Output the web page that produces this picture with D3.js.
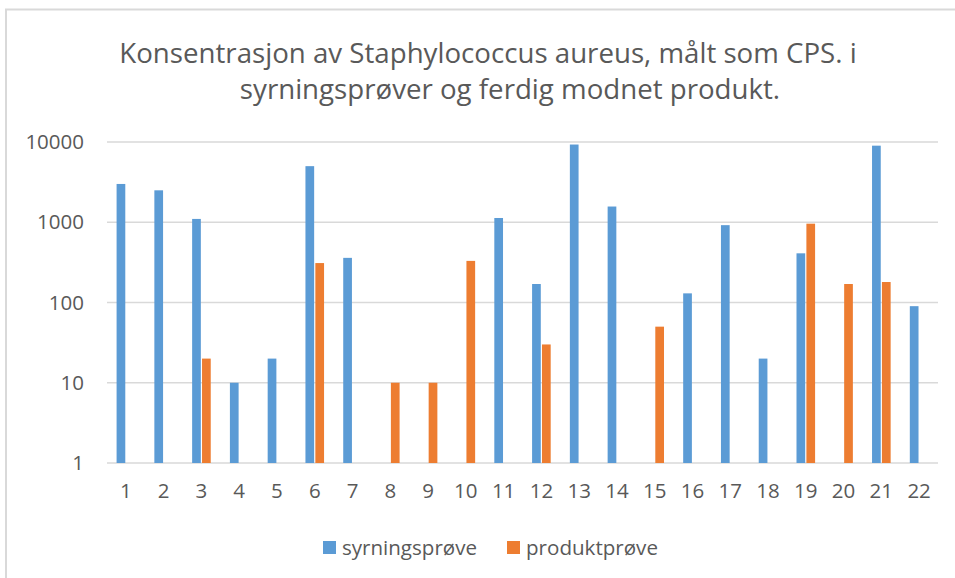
<!DOCTYPE html>
<html>
<head>
<meta charset="utf-8">
<script src="https://cdn.jsdelivr.net/npm/d3@7"></script>
<style>
  body { margin: 0; background: #fff; }
  text { font-family: "Open Sans", "Noto Sans", sans-serif; fill: #595959; }
</style>
</head>
<body>
<div id="chart"></div>
<script>

// prøvenummer
var categories = ["1","2","3","4","5","6","7","8","9","10","11","12","13","14","15","16","17","18","19","20","21","22"];

// syrningsprøve og produktprøve (null = ingen verdi)
var syrning = [3000, 2500, 1100, 10, 20, 5000, 360, null, null, null, 1130, 170, 9300, 1570, null, 130, 920, 20, 410, null, 9000, 90];
var produkt = [null, null, 20, null, null, 310, null, 10, 10, 330, null, 30, null, null, 50, null, null, null, 960, 170, 180, null];

var seriesNames = ["syrningsprøve", "produktprøve"];
var colors = ["#5B9BD5", "#ED7D31"];
var yTicks = [1, 10, 100, 1000, 10000];

var titleLines = ["Konsentrasjon av Staphylococcus aureus, målt som CPS. i",
                  "syrningsprøver og ferdig modnet produkt."];

var width = 955, height = 578;
var margin = { left: 107, right: 17, top: 142, bottom: 115 };

var svg = d3.select("#chart").append("svg")
    .attr("width", width)
    .attr("height", height);

// ramme rundt diagrammet
svg.append("rect")
    .attr("x", 6).attr("y", 9.5)
    .attr("width", width).attr("height", height)
    .attr("fill", "none")
    .attr("stroke", "#d9d9d9")
    .attr("stroke-width", 2);

// skalerer fontstørrelse slik at teksten får ønsket bredde
function fitText(sel, target) {
    var w = sel.node().getComputedTextLength();
    var fs = parseFloat(sel.attr("font-size"));
    sel.attr("font-size", fs * target / w);
}

var t1 = svg.append("text")
    .attr("x", 488).attr("y", 63)
    .attr("text-anchor", "middle")
    .attr("font-size", 22)
    .text(titleLines[0]);
fitText(t1, 738);
var t2 = svg.append("text")
    .attr("x", 510).attr("y", 99)
    .attr("text-anchor", "middle")
    .attr("font-size", t1.attr("font-size"))
    .text(titleLines[1]);

var x0 = d3.scaleBand()
    .domain(categories)
    .range([margin.left, width - margin.right]);

var bw = x0.bandwidth();
var x1 = d3.scaleBand()
    .domain([0, 1])
    .range([bw / 2 - 9.3, bw / 2 + 9.3])
    .paddingInner(0.12);

var y = d3.scaleLog()
    .domain([1, 10000])
    .range([height - margin.bottom, margin.top]);

// gridlinjer
svg.append("g")
    .selectAll("line")
    .data(yTicks).enter()
    .append("line")
    .attr("x1", margin.left)
    .attr("x2", width - margin.right)
    .attr("y1", function (d) { return y(d); })
    .attr("y2", function (d) { return y(d); })
    .attr("stroke", "#d9d9d9")
    .attr("stroke-width", 1.5);

// y-akse tekst
var yAxis = d3.axisLeft(y)
    .tickValues(yTicks)
    .tickFormat(d3.format("d"))
    .tickSize(0)
    .tickPadding(23);

var gy = svg.append("g")
    .attr("transform", "translate(" + margin.left + ",0)")
    .call(yAxis);
gy.select(".domain").remove();
gy.selectAll("text")
    .attr("font-size", 20.5)
    .attr("font-family", "'Open Sans', sans-serif")
    .attr("fill", "#595959");

// x-akse tekst
var xAxis = d3.axisBottom(x0).tickSize(0).tickPadding(20);
var gx = svg.append("g")
    .attr("transform", "translate(0," + y(1) + ")")
    .call(xAxis);
gx.select(".domain").remove();
gx.selectAll("text")
    .attr("font-size", 20.5)
    .attr("font-family", "'Open Sans', sans-serif")
    .attr("fill", "#595959");

// søyler
var rows = categories.map(function (c, i) {
    return { cat: c, vals: [syrning[i], produkt[i]] };
});

var groups = svg.append("g")
    .selectAll(".grp")
    .data(rows).enter()
    .append("g")
    .attr("class", "grp")
    .attr("transform", function (d) { return "translate(" + x0(d.cat) + ",0)"; });

groups.selectAll("rect")
    .data(function (d) {
        return d.vals.map(function (v, k) { return { k: k, v: v }; })
            .filter(function (e) { return e.v != null; });
    }).enter()
    .append("rect")
    .attr("x", function (d) { return x1(d.k); })
    .attr("width", x1.bandwidth())
    .attr("y", function (d) { return y(d.v); })
    .attr("height", function (d) { return y(1) - y(d.v); })
    .attr("fill", function (d) { return colors[d.k]; });

// forklaring
var legX = [323, 507];
var leg = svg.append("g")
    .selectAll(".leg")
    .data(seriesNames).enter()
    .append("g")
    .attr("class", "leg")
    .attr("transform", function (d, i) { return "translate(" + legX[i] + ",541)"; });

leg.append("rect")
    .attr("width", 13).attr("height", 13)
    .attr("fill", function (d, i) { return colors[i]; });

leg.append("text")
    .attr("x", 19).attr("y", 14)
    .attr("font-size", 20)
    .text(function (d) { return d; })
    .each(function (d, i) { fitText(d3.select(this), i === 0 ? 135 : 132); });

</script>
</body>
</html>
